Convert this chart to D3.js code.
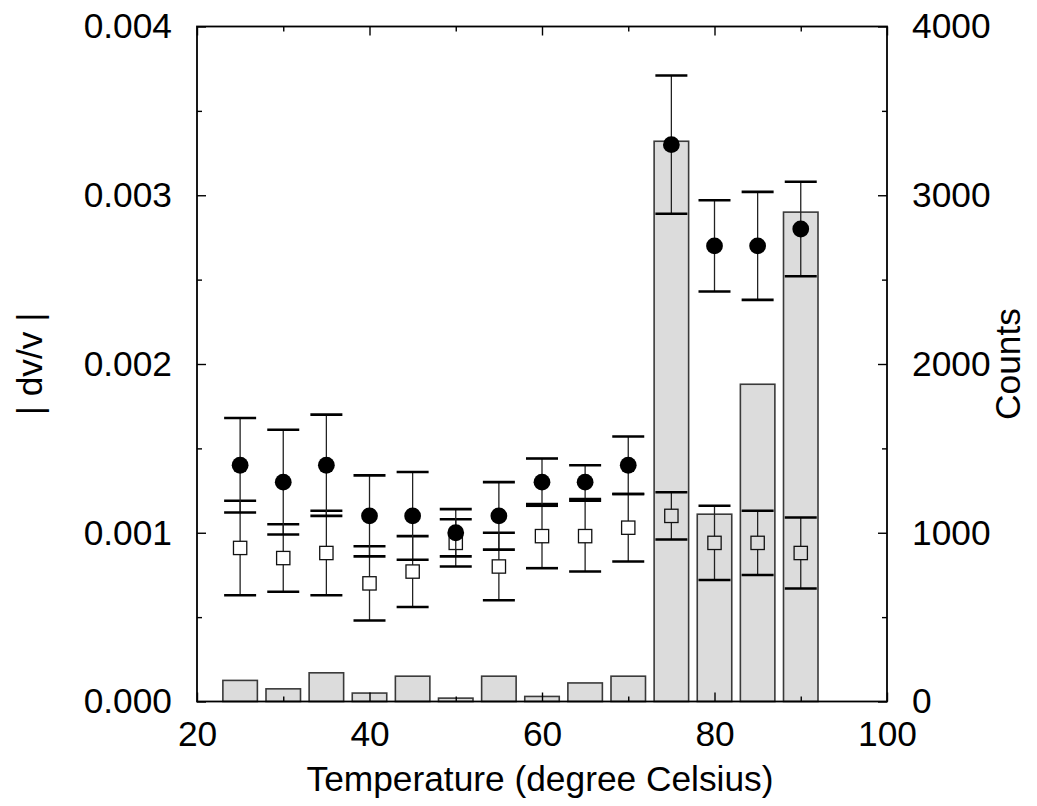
<!DOCTYPE html>
<html>
<head>
<meta charset="utf-8">
<script src="https://cdn.jsdelivr.net/npm/d3@7"></script>
<style>
  html, body { margin: 0; padding: 0; background: #fff; }
  svg text { font-family: "Liberation Sans", Arial, Helvetica, sans-serif; fill: #000; }
</style>
</head>
<body>
<svg id="chart" width="1037" height="806"></svg>
<script>
// ---- data ----
const temps = [25, 30, 35, 40, 45, 50, 55, 60, 65, 70, 75, 80, 85, 90];
const counts = [125, 75, 170, 50, 150, 20, 150, 30, 110, 150, 3320, 1110, 1880, 2900];
const dvFilled = [0.0014, 0.0013, 0.0014, 0.0011, 0.0011, 0.0010, 0.0011, 0.0013, 0.0013, 0.0014, 0.0033, 0.0027, 0.0027, 0.0028];
const dvFilledErr = [0.00028, 0.00031, 0.0003, 0.00024, 0.00026, 0.00014, 0.0002, 0.00014, 0.0001, 0.00017, 0.00041, 0.00027, 0.00032, 0.00028];
const dvOpen = [0.00091, 0.00085, 0.00088, 0.0007, 0.00077, 0.00094, 0.0008, 0.00098, 0.00098, 0.00103, 0.0011, 0.00094, 0.00094, 0.00088];
const dvOpenErr = [0.00028, 0.0002, 0.00025, 0.00022, 0.00021, 0.00014, 0.0002, 0.00019, 0.00021, 0.0002, 0.00014, 0.00022, 0.00019, 0.00021];
const xTicks = [20, 40, 60, 80, 100];
const xMinorTicks = [30, 50, 70, 90];
const yTicks = [0, 0.001, 0.002, 0.003, 0.004];
const yMinorTicks = [0.0005, 0.0015, 0.0025, 0.0035];
const countTicks = [0, 1000, 2000, 3000, 4000];
const countMinorTicks = [500, 1500, 2500, 3500];
const binWidth = 4;
const xLabel = "Temperature (degree Celsius)";
const yLabel = "| dv/v |";
const y2Label = "Counts";

// ---- layout ----
const L = 197, R = 887, T = 26.5, B = 701.5;
const FONT = 35.3;
const svg = d3.select("#chart");

const x = d3.scaleLinear().domain([20, 100]).range([L, R]);
const y = d3.scaleLinear().domain([0, 0.004]).range([B, T]);
const yc = d3.scaleLinear().domain([0, 4000]).range([B, T]);

// bars
svg.append("g").selectAll("rect").data(temps).join("rect")
  .attr("x", d => x(d - binWidth / 2))
  .attr("width", d => x(d + binWidth / 2) - x(d - binWidth / 2))
  .attr("y", (d, i) => yc(counts[i]))
  .attr("height", (d, i) => B - yc(counts[i]))
  .attr("fill", "#dcdcdc")
  .attr("stroke", "#3a3a3a")
  .attr("stroke-width", 1.6);

const capHalf = 16;
const sq = 13.3;

// open squares with error bars
const gOpen = svg.append("g");
temps.forEach((t, i) => {
  const cx = x(t), cy = y(dvOpen[i]);
  const top = y(dvOpen[i] + dvOpenErr[i]), bot = y(dvOpen[i] - dvOpenErr[i]);
  gOpen.append("line").attr("x1", cx).attr("x2", cx).attr("y1", top).attr("y2", cy - sq / 2)
    .attr("stroke", "#222").attr("stroke-width", 1.3);
  gOpen.append("line").attr("x1", cx).attr("x2", cx).attr("y1", cy + sq / 2).attr("y2", bot)
    .attr("stroke", "#222").attr("stroke-width", 1.3);
  [top, bot].forEach(yy => gOpen.append("line")
    .attr("x1", cx - capHalf).attr("x2", cx + capHalf).attr("y1", yy).attr("y2", yy)
    .attr("stroke", "#000").attr("stroke-width", 2.6));
  gOpen.append("rect").attr("x", cx - sq / 2).attr("y", cy - sq / 2).attr("width", sq).attr("height", sq)
    .attr("fill", "none").attr("stroke", "#111").attr("stroke-width", 1.3);
});

// filled circles with error bars
const gFill = svg.append("g");
temps.forEach((t, i) => {
  const cx = x(t), cy = y(dvFilled[i]);
  const top = y(dvFilled[i] + dvFilledErr[i]), bot = y(dvFilled[i] - dvFilledErr[i]);
  gFill.append("line").attr("x1", cx).attr("x2", cx).attr("y1", top).attr("y2", bot)
    .attr("stroke", "#222").attr("stroke-width", 1.3);
  [top, bot].forEach(yy => gFill.append("line")
    .attr("x1", cx - capHalf).attr("x2", cx + capHalf).attr("y1", yy).attr("y2", yy)
    .attr("stroke", "#000").attr("stroke-width", 2.6));
  gFill.append("circle").attr("cx", cx).attr("cy", cy).attr("r", 8.4).attr("fill", "#000");
});

// axes (inward ticks)
function styleAxis(g) {
  g.select(".domain").remove();
  g.selectAll(".tick line").attr("stroke", "#000").attr("stroke-width", 1.4);
  g.selectAll(".tick text").attr("font-size", FONT).style("font-family", '"Liberation Sans", Arial, sans-serif');
}
svg.append("g").attr("transform", `translate(0,${B})`)
  .call(d3.axisBottom(x).tickValues(xTicks).tickFormat(d3.format("d")).tickSize(-9).tickPadding(19)).call(styleAxis);
svg.append("g").attr("transform", `translate(0,${B})`)
  .call(d3.axisBottom(x).tickValues(xMinorTicks).tickFormat("").tickSize(-5)).call(styleAxis);
svg.append("g").attr("transform", `translate(0,${T})`)
  .call(d3.axisTop(x).tickValues(xTicks).tickFormat("").tickSize(-9)).call(styleAxis);
svg.append("g").attr("transform", `translate(0,${T})`)
  .call(d3.axisTop(x).tickValues(xMinorTicks).tickFormat("").tickSize(-5)).call(styleAxis);
svg.append("g").attr("transform", `translate(${L},0)`)
  .call(d3.axisLeft(y).tickValues(yTicks).tickFormat(d3.format(".3f")).tickSize(-9).tickPadding(25)).call(styleAxis);
svg.append("g").attr("transform", `translate(${L},0)`)
  .call(d3.axisLeft(y).tickValues(yMinorTicks).tickFormat("").tickSize(-5)).call(styleAxis);
svg.append("g").attr("transform", `translate(${R},0)`)
  .call(d3.axisRight(yc).tickValues(countTicks).tickFormat(d3.format("d")).tickSize(-9).tickPadding(25)).call(styleAxis);
svg.append("g").attr("transform", `translate(${R},0)`)
  .call(d3.axisRight(yc).tickValues(countMinorTicks).tickFormat("").tickSize(-5)).call(styleAxis);

// frame
svg.append("rect").attr("x", L).attr("y", T).attr("width", R - L).attr("height", B - T)
  .attr("fill", "none").attr("stroke", "#000").attr("stroke-width", 1.8);

// titles
svg.append("text").attr("x", (L + R) / 2 - 2).attr("y", 791).attr("text-anchor", "middle")
  .attr("font-size", FONT).text(xLabel);
svg.append("text").attr("transform", `translate(42,${(T + B) / 2}) rotate(-90)`).attr("text-anchor", "middle")
  .attr("font-size", FONT).text(yLabel);
svg.append("text").attr("transform", `translate(1020,${(T + B) / 2}) rotate(-90)`).attr("text-anchor", "middle")
  .attr("font-size", FONT).text(y2Label);
</script>
</body>
</html>
